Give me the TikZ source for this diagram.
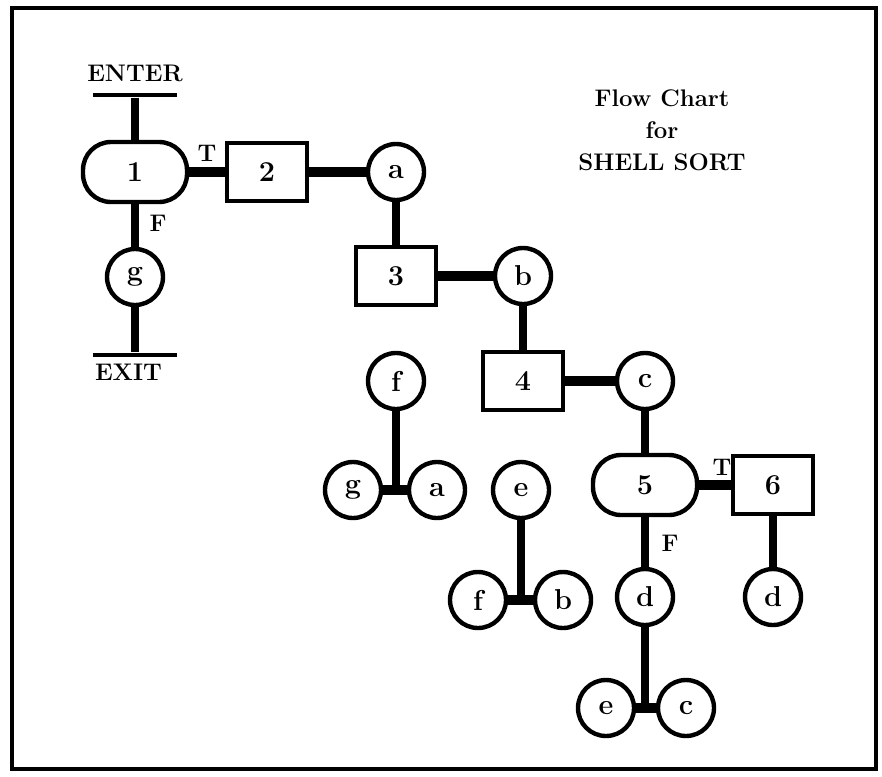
\documentclass[tikz,border=0pt]{standalone}
\usetikzlibrary{positioning}
\tikzset{
	box/.style={draw, line width=2.2pt, minimum width=40pt, minimum height=29pt, font=\bfseries\Large},
	oval/.style={draw, line width=2.2pt, rounded corners=14pt, minimum width=52pt, minimum height=30pt, font=\bfseries\Large},
	conn/.style={draw, circle, line width=2.2pt, minimum size=28pt, inner sep=0pt, font=\bfseries\Large},
	link/.style={line width=3.8pt},
	heavy/.style={line width=4.8pt},
	bar/.style={fill=black, minimum width=42pt, minimum height=2.2pt, inner sep=0pt}
}
\begin{document}
\begin{tikzpicture}[x=0.5pt, y=-0.5pt, font=\bfseries\large]
	\useasboundingbox (0,0) rectangle (882,776);
	\draw[line width=2pt] (12,8) rectangle (876,769);
	\node[bar] (enterbar) at (135,95) {};
	\node[above=2pt of enterbar] (enter) {ENTER};
	\node[oval] (n1) at (135,172) {1};
	\node[box] (n2) at (267,172) {2};
	\node[conn] (ca) at (396,172) {a};
	\node[box] (n3) at (396,276) {3};
	\node[conn] (cb) at (523,276) {b};
	\node[box] (n4) at (523,381) {4};
	\node[conn] (cc) at (645,381) {c};
	\node[oval] (n5) at (645,485) {5};
	\node[box] (n6) at (773,485) {6};
	\node[conn] (cg) at (135,277) {g};
	\node[bar] (exitbar) at (135,355) {};
	\node[below right=2pt and 0pt of exitbar.south west, anchor=north west, inner sep=1pt] (exit) {EXIT};
	\node (t1) at (207,153) {T};
	\node (f1) at (158,223) {F};
	\node (t5) at (722,467) {T};
	\node (f5) at (670,543) {F};
	\node[conn] (d5) at (645,597) {d};
	\node[conn] (d6) at (773,597) {d};
	\node[conn] (fa) at (396,381) {f};
	\node[conn] (ga) at (353,490) {g};
	\node[conn] (aa) at (437,490) {a};
	\node[conn] (eb) at (521,490) {e};
	\node[conn] (fb) at (478,600) {f};
	\node[conn] (bb) at (563,600) {b};
	\node[conn] (ec) at (606,708) {e};
	\node[conn] (cc2) at (686,708) {c};
	\coordinate (ja) at (396,490);
	\coordinate (jb) at (521,600);
	\coordinate (jc) at (645,708);
	\node[align=center] (title) at (662,130) {Flow Chart\\[2pt]for\\[2pt]SHELL SORT};
	\draw[link] (enterbar) -- (n1);
	\draw[heavy] (n1) -- (n2);
	\draw[heavy] (n2) -- (ca);
	\draw[link] (ca) -- (n3);
	\draw[heavy] (n3) -- (cb);
	\draw[link] (cb) -- (n4);
	\draw[heavy] (n4) -- (cc);
	\draw[link] (cc) -- (n5);
	\draw[heavy] (n5) -- (n6);
	\draw[link] (n1) -- (cg);
	\draw[link] (cg) -- (exitbar);
	\draw[link] (n5) -- (d5);
	\draw[link] (n6) -- (d6);
	\draw[link] (fa) -- (ja);
	\draw[heavy] (ga) -- (aa);
	\draw[link] (eb) -- (jb);
	\draw[heavy] (fb) -- (bb);
	\draw[link] (d5) -- (jc);
	\draw[heavy] (ec) -- (cc2);
\end{tikzpicture}
\end{document}
